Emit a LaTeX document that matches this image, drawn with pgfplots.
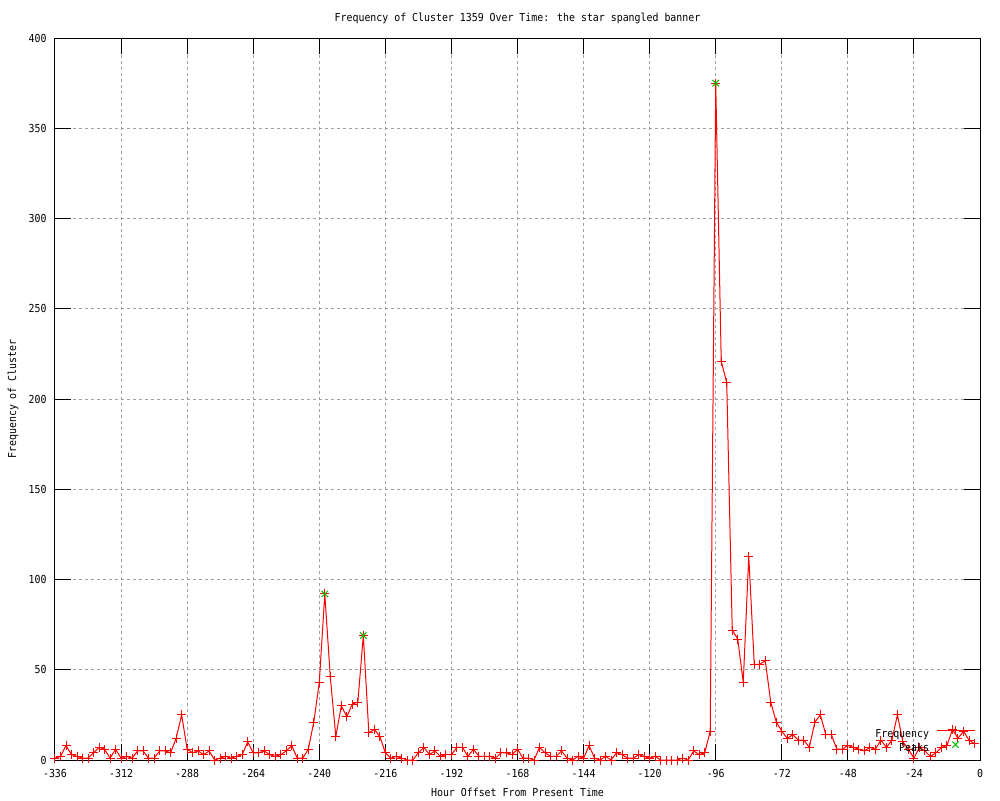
\documentclass[border=0pt]{standalone}
\usepackage{fontspec}
\setmainfont{DejaVu Sans Mono}[FakeStretch=0.9]
\usepackage{pgfplots}
\pgfplotsset{compat=1.18}
\definecolor{gpgreen}{RGB}{0,192,0}
\definecolor{gpgrid}{RGB}{160,160,160}
\pgfplotsset{
  freqlegend/.style={legend image code/.code={\draw[mark repeat=2, mark phase=2, ##1] plot coordinates {(0pt,2pt) (9.5pt,2pt) (19pt,2pt)};}},
  peaklegend/.style={legend image code/.code={\path (0pt,2pt) (19pt,2pt); \draw[##1] plot coordinates {(9.5pt,2pt)};}},
}
\begin{document}
\begin{tikzpicture}[font=\fontsize{5.5}{6.5}\selectfont]
\begin{axis}[
  at={(0,0)}, anchor=south west,
  scale only axis, width=462.5pt, height=361pt,
  xmin=-336, xmax=0, ymin=0, ymax=400,
  xtick={-336,-312,...,0}, ytick={0,50,...,400},
  minor tick num=0,
  tick align=inside, major tick length=8pt,
  xtick pos=both, ytick pos=both,
  tick style={black, line width=0.5pt},
  axis line style={black, line width=0.5pt},
  grid=major,
  major grid style={gpgrid, line width=0.5pt, dash pattern=on 1.5pt off 1.5pt},
  /pgf/number format/assume math mode=true,
  /pgf/number format/1000 sep={},
  xticklabel style={inner sep=0pt, anchor=north, yshift=-4.5pt},
  yticklabel style={inner sep=0pt, anchor=east, xshift=-4pt},
  title={Frequency of Cluster 1359 Over Time: the star spangled banner},
  xlabel={Hour Offset From Present Time},
  ylabel={Frequency of Cluster},
  every axis y label/.style={at={(axis description cs:0,0.5)}, xshift=-21pt, anchor=center, rotate=90, inner sep=0pt},
  every axis x label/.style={at={(axis description cs:0.5,0)}, anchor=center, yshift=-16pt, inner sep=0pt},
  every axis title/.style={at={(axis description cs:0.5,1)}, anchor=center, yshift=10pt, inner sep=0pt},
  clip=false,
  legend cell align=right,
  legend plot pos=right,
  legend style={at={(rel axis cs:0.9946,0.0266)}, anchor=east, draw=none, fill=none,
    inner sep=0pt, outer sep=0pt, row sep=0pt, /tikz/column sep=3.5pt,
    nodes={inner sep=0pt, text height=4.7pt, text depth=2pt}},
]
\addplot[color=red, line width=0.5pt, mark=+, mark size=2.25pt,
  mark options={line width=0.5pt, solid}, freqlegend]
table {
x y
-336 1
-334 2
-332 8
-330 3
-328 2
-326 1
-324 1
-322 4
-320 7
-318 6
-316 1
-314 6
-312 1
-310 2
-308 1
-306 5
-304 5
-302 1
-300 1
-298 5
-296 5
-294 4
-292 12
-290 25
-288 6
-286 4
-284 5
-282 3
-280 5
-278 0
-276 1
-274 2
-272 1
-270 2
-268 3
-266 10
-264 4
-262 4
-260 5
-258 3
-256 2
-254 3
-252 5
-250 8
-248 1
-246 1
-244 6
-242 21
-240 43
-238 92
-236 46
-234 13
-232 30
-230 24
-228 31
-226 32
-224 69
-222 15
-220 17
-218 13
-216 4
-214 1
-212 2
-210 1
-208 0
-206 0
-204 4
-202 7
-200 3
-198 5
-196 2
-194 3
-192 3
-190 7
-188 7
-186 2
-184 6
-182 2
-180 2
-178 2
-176 1
-174 4
-172 4
-170 3
-168 6
-166 1
-164 1
-162 0
-160 7
-158 4
-156 2
-154 2
-152 5
-150 1
-148 0
-146 2
-144 1
-142 8
-140 1
-138 0
-136 2
-134 0
-132 4
-130 3
-128 1
-126 1
-124 3
-122 2
-120 1
-118 2
-116 0
-114 0
-112 0
-110 0
-108 1
-106 0
-104 5
-102 3
-100 4
-98 16
-96 375
-94 221
-92 209
-90 72
-88 67
-86 43
-84 113
-82 53
-80 53
-78 55
-76 32
-74 21
-72 16
-70 12
-68 14
-66 11
-64 11
-62 7
-60 21
-58 25
-56 14
-54 14
-52 6
-50 6
-48 8
-46 7
-44 6
-42 5
-40 7
-38 6
-36 11
-34 7
-32 11
-30 25
-28 10
-26 6
-24 1
-22 7
-20 5
-18 2
-16 4
-14 7
-12 8
-10 17
-8 12
-6 16
-4 11
-2 9
};
\addlegendentry{Frequency}
\addplot[only marks, color=gpgreen, mark=x, mark size=2.25pt, mark options={line width=0.5pt}, peaklegend]
coordinates {(-238,92) (-224,69) (-96,375)};
\addlegendentry{Peaks}
\end{axis}
\useasboundingbox (-27.5pt,-20pt) rectangle (472.5pt,380pt);
\end{tikzpicture}
\end{document}
